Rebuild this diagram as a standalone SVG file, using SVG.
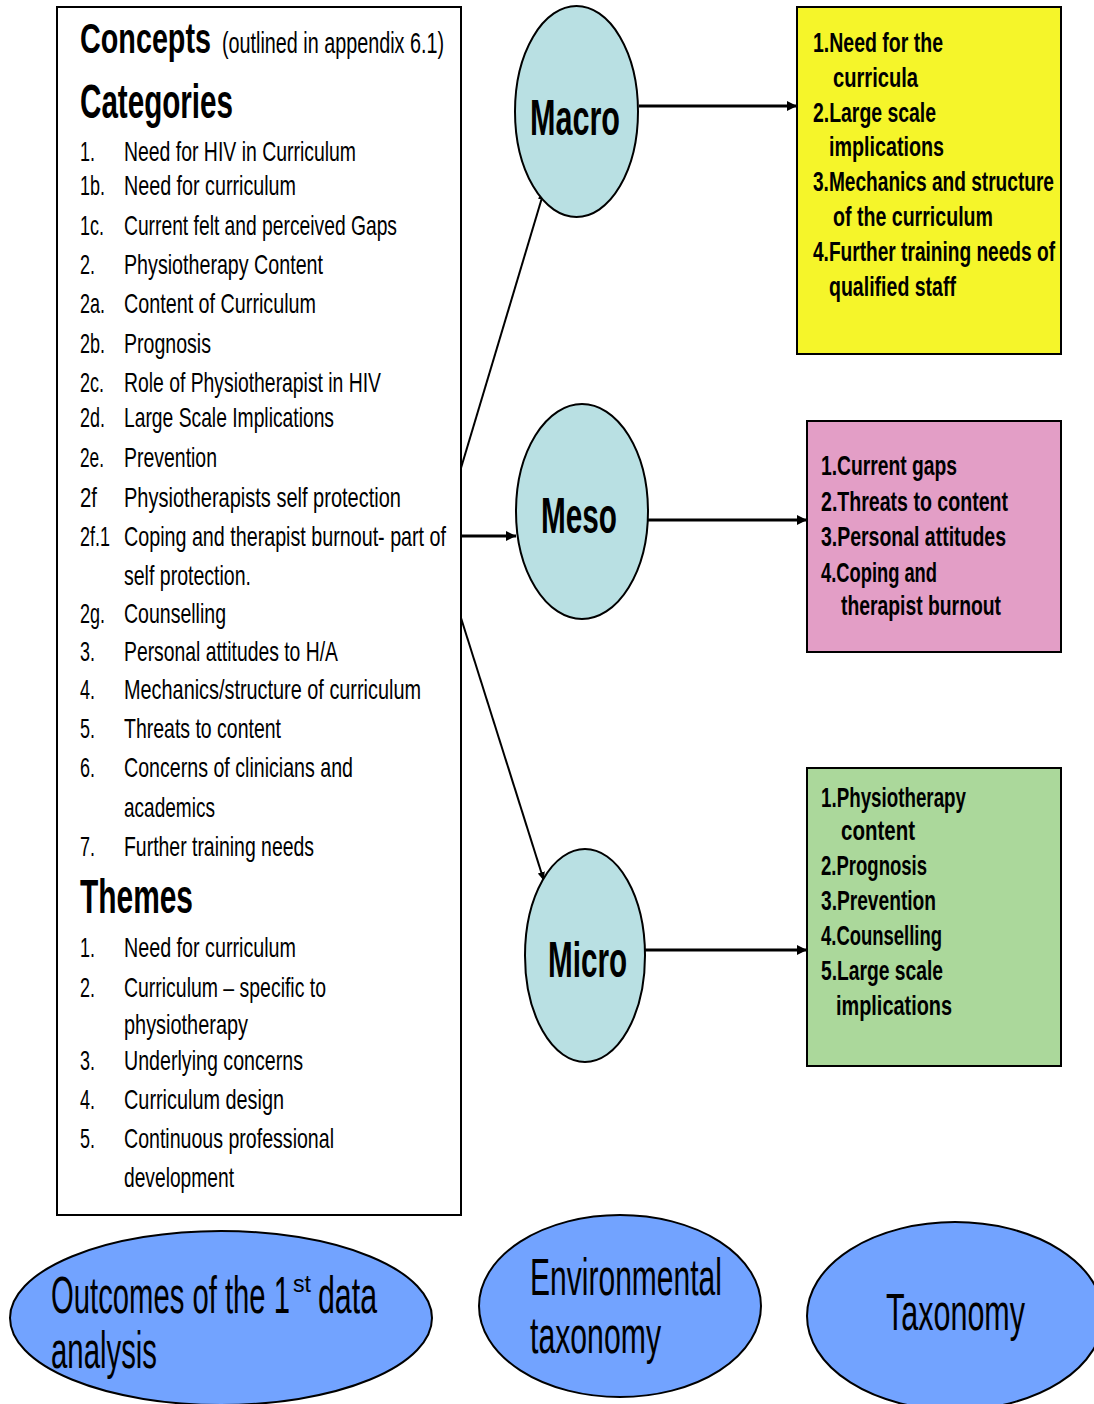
<svg xmlns="http://www.w3.org/2000/svg" width="1094" height="1404" viewBox="0 0 1094 1404">
  <style>
    .box { stroke: #000; stroke-width: 2; }
    .oval { fill: #B9E0E3; stroke: #000; stroke-width: 2; }
    .blue { fill: #72A3FF; stroke: #000; stroke-width: 2; }
    .t { font-family: "Liberation Sans", Arial, sans-serif; fill: #000; }
    .item { font-size: 28px; }
    .head { font-size: 48px; font-weight: bold; }
    .lbl { font-size: 50px; font-weight: bold; }
    .bx { font-size: 28px; font-weight: bold; }
    .big { font-size: 52px; }
    .conn { stroke: #000; fill: none; }
  </style>
  <defs>
    <marker id="arrow" viewBox="0 0 10 10" refX="10" refY="5" markerUnits="userSpaceOnUse" markerWidth="10" markerHeight="10" orient="auto">
      <path d="M0,0 L10,5 L0,10 z" fill="#000"/>
    </marker>
    <marker id="arrowThin" viewBox="0 0 10 10" refX="10" refY="5" markerUnits="userSpaceOnUse" markerWidth="9" markerHeight="9" orient="auto">
      <path d="M0,1 L10,5 L0,9 z" fill="#000"/>
    </marker>
  </defs>

  <rect width="1094" height="1404" fill="#fff"/>

  <!-- connectors -->
  <g id="connectors">
    <line class="conn" x1="639" y1="106" x2="797" y2="106" stroke-width="3" marker-end="url(#arrow)"/>
    <line class="conn" x1="648" y1="520" x2="807" y2="520" stroke-width="3" marker-end="url(#arrow)"/>
    <line class="conn" x1="645" y1="950" x2="807" y2="950" stroke-width="3" marker-end="url(#arrow)"/>
    <line class="conn" x1="461" y1="536" x2="516" y2="536" stroke-width="3" marker-end="url(#arrow)"/>
    <line class="conn" x1="461" y1="468" x2="544" y2="191" stroke-width="2" marker-end="url(#arrowThin)"/>
    <line class="conn" x1="461" y1="618" x2="544" y2="881" stroke-width="2" marker-end="url(#arrowThin)"/>
  </g>

  <!-- concepts / categories / themes list -->
  <g id="concepts">
    <rect class="box" x="57" y="7" width="404" height="1208" fill="#fff"/>
    <text class="t" x="80" y="53" font-size="42" font-weight="bold" textLength="131" lengthAdjust="spacingAndGlyphs">Concepts</text>
    <text class="t" x="222" y="53" font-size="30" textLength="222" lengthAdjust="spacingAndGlyphs">(outlined in appendix 6.1)</text>
    <text class="t head" x="80" y="118" textLength="153" lengthAdjust="spacingAndGlyphs">Categories</text>

    <g class="t item">
      <text x="80" y="161" textLength="15" lengthAdjust="spacingAndGlyphs">1.</text><text x="124" y="161" textLength="232" lengthAdjust="spacingAndGlyphs">Need for HIV in Curriculum</text>
      <text x="80" y="195" textLength="25" lengthAdjust="spacingAndGlyphs">1b.</text><text x="124" y="195" textLength="172" lengthAdjust="spacingAndGlyphs">Need for curriculum</text>
      <text x="80" y="235" textLength="24" lengthAdjust="spacingAndGlyphs">1c.</text><text x="124" y="235" textLength="273" lengthAdjust="spacingAndGlyphs">Current felt and perceived Gaps</text>
      <text x="80" y="274" textLength="15" lengthAdjust="spacingAndGlyphs">2.</text><text x="124" y="274" textLength="199" lengthAdjust="spacingAndGlyphs">Physiotherapy Content</text>
      <text x="80" y="313" textLength="25" lengthAdjust="spacingAndGlyphs">2a.</text><text x="124" y="313" textLength="192" lengthAdjust="spacingAndGlyphs">Content of Curriculum</text>
      <text x="80" y="353" textLength="25" lengthAdjust="spacingAndGlyphs">2b.</text><text x="124" y="353" textLength="87" lengthAdjust="spacingAndGlyphs">Prognosis</text>
      <text x="80" y="392" textLength="24" lengthAdjust="spacingAndGlyphs">2c.</text><text x="124" y="392" textLength="257" lengthAdjust="spacingAndGlyphs">Role of Physiotherapist in HIV</text>
      <text x="80" y="427" textLength="25" lengthAdjust="spacingAndGlyphs">2d.</text><text x="124" y="427" textLength="210" lengthAdjust="spacingAndGlyphs">Large Scale Implications</text>
      <text x="80" y="467" textLength="24" lengthAdjust="spacingAndGlyphs">2e.</text><text x="124" y="467" textLength="93" lengthAdjust="spacingAndGlyphs">Prevention</text>
      <text x="80" y="507" textLength="17" lengthAdjust="spacingAndGlyphs">2f</text><text x="124" y="507" textLength="277" lengthAdjust="spacingAndGlyphs">Physiotherapists self protection</text>
      <text x="80" y="546" textLength="30" lengthAdjust="spacingAndGlyphs">2f.1</text><text x="124" y="546" textLength="322" lengthAdjust="spacingAndGlyphs">Coping and therapist burnout- part of</text>
      <text x="124" y="585" textLength="127" lengthAdjust="spacingAndGlyphs">self protection.</text>
      <text x="80" y="623" textLength="25" lengthAdjust="spacingAndGlyphs">2g.</text><text x="124" y="623" textLength="102" lengthAdjust="spacingAndGlyphs">Counselling</text>
      <text x="80" y="661" textLength="15" lengthAdjust="spacingAndGlyphs">3.</text><text x="124" y="661" textLength="214" lengthAdjust="spacingAndGlyphs">Personal attitudes to H/A</text>
      <text x="80" y="699" textLength="15" lengthAdjust="spacingAndGlyphs">4.</text><text x="124" y="699" textLength="297" lengthAdjust="spacingAndGlyphs">Mechanics/structure of curriculum</text>
      <text x="80" y="738" textLength="15" lengthAdjust="spacingAndGlyphs">5.</text><text x="124" y="738" textLength="157" lengthAdjust="spacingAndGlyphs">Threats to content</text>
      <text x="80" y="777" textLength="15" lengthAdjust="spacingAndGlyphs">6.</text><text x="124" y="777" textLength="229" lengthAdjust="spacingAndGlyphs">Concerns of clinicians and</text>
      <text x="124" y="817" textLength="91" lengthAdjust="spacingAndGlyphs">academics</text>
      <text x="80" y="856" textLength="15" lengthAdjust="spacingAndGlyphs">7.</text><text x="124" y="856" textLength="190" lengthAdjust="spacingAndGlyphs">Further training needs</text>
    </g>

    <text class="t head" x="80" y="913" textLength="113" lengthAdjust="spacingAndGlyphs">Themes</text>

    <g class="t item">
      <text x="80" y="957" textLength="15" lengthAdjust="spacingAndGlyphs">1.</text><text x="124" y="957" textLength="172" lengthAdjust="spacingAndGlyphs">Need for curriculum</text>
      <text x="80" y="997" textLength="15" lengthAdjust="spacingAndGlyphs">2.</text><text x="124" y="997" textLength="202" lengthAdjust="spacingAndGlyphs">Curriculum – specific to</text>
      <text x="124" y="1034" textLength="124" lengthAdjust="spacingAndGlyphs">physiotherapy</text>
      <text x="80" y="1070" textLength="15" lengthAdjust="spacingAndGlyphs">3.</text><text x="124" y="1070" textLength="179" lengthAdjust="spacingAndGlyphs">Underlying concerns</text>
      <text x="80" y="1109" textLength="15" lengthAdjust="spacingAndGlyphs">4.</text><text x="124" y="1109" textLength="160" lengthAdjust="spacingAndGlyphs">Curriculum design</text>
      <text x="80" y="1148" textLength="15" lengthAdjust="spacingAndGlyphs">5.</text><text x="124" y="1148" textLength="210" lengthAdjust="spacingAndGlyphs">Continuous professional</text>
      <text x="124" y="1187" textLength="110" lengthAdjust="spacingAndGlyphs">development</text>
    </g>
  </g>

  <!-- level ovals -->
  <g id="macro">
    <ellipse class="oval" cx="576.5" cy="111.5" rx="61.5" ry="105.5"/>
    <text class="t lbl" x="530" y="135" textLength="90" lengthAdjust="spacingAndGlyphs">Macro</text>
  </g>
  <g id="meso">
    <ellipse class="oval" cx="582" cy="511.5" rx="66" ry="107.5"/>
    <text class="t lbl" x="541" y="533" textLength="76" lengthAdjust="spacingAndGlyphs">Meso</text>
  </g>
  <g id="micro">
    <ellipse class="oval" cx="585" cy="955.5" rx="60" ry="106.5"/>
    <text class="t lbl" x="548" y="977" textLength="79" lengthAdjust="spacingAndGlyphs">Micro</text>
  </g>

  <!-- macro findings -->
  <g id="macro-list">
    <rect class="box" x="797" y="7" width="264" height="347" fill="#F5F52A"/>
    <g class="t bx">
      <text x="813" y="52" textLength="130" lengthAdjust="spacingAndGlyphs">1.Need for the</text>
      <text x="833" y="87" textLength="85" lengthAdjust="spacingAndGlyphs">curricula</text>
      <text x="813" y="122" textLength="123" lengthAdjust="spacingAndGlyphs">2.Large scale</text>
      <text x="829" y="156" textLength="115" lengthAdjust="spacingAndGlyphs">implications</text>
      <text x="813" y="191" textLength="241" lengthAdjust="spacingAndGlyphs">3.Mechanics and structure</text>
      <text x="833" y="226" textLength="160" lengthAdjust="spacingAndGlyphs">of the curriculum</text>
      <text x="813" y="261" textLength="242" lengthAdjust="spacingAndGlyphs">4.Further training needs of</text>
      <text x="829" y="296" textLength="127" lengthAdjust="spacingAndGlyphs">qualified staff</text>
    </g>
  </g>

  <!-- meso findings -->
  <g id="meso-list">
    <rect class="box" x="807" y="421" width="254" height="231" fill="#E39EC6"/>
    <g class="t bx">
      <text x="821" y="475" textLength="136" lengthAdjust="spacingAndGlyphs">1.Current gaps</text>
      <text x="821" y="511" textLength="187" lengthAdjust="spacingAndGlyphs">2.Threats to content</text>
      <text x="821" y="546" textLength="185" lengthAdjust="spacingAndGlyphs">3.Personal attitudes</text>
      <text x="821" y="582" textLength="116" lengthAdjust="spacingAndGlyphs">4.Coping and</text>
      <text x="841" y="615" textLength="160" lengthAdjust="spacingAndGlyphs">therapist burnout</text>
    </g>
  </g>

  <!-- micro findings -->
  <g id="micro-list">
    <rect class="box" x="807" y="768" width="254" height="298" fill="#ABD89B"/>
    <g class="t bx">
      <text x="821" y="807" textLength="145" lengthAdjust="spacingAndGlyphs">1.Physiotherapy</text>
      <text x="841" y="840" textLength="74" lengthAdjust="spacingAndGlyphs">content</text>
      <text x="821" y="875" textLength="106" lengthAdjust="spacingAndGlyphs">2.Prognosis</text>
      <text x="821" y="910" textLength="115" lengthAdjust="spacingAndGlyphs">3.Prevention</text>
      <text x="821" y="945" textLength="121" lengthAdjust="spacingAndGlyphs">4.Counselling</text>
      <text x="821" y="980" textLength="122" lengthAdjust="spacingAndGlyphs">5.Large scale</text>
      <text x="836" y="1015" textLength="116" lengthAdjust="spacingAndGlyphs">implications</text>
    </g>
  </g>

  <!-- bottom legend ovals -->
  <g id="outcomes">
    <ellipse class="blue" cx="221" cy="1318" rx="211" ry="87"/>
    <text class="t big" x="51" y="1313" textLength="239" lengthAdjust="spacingAndGlyphs">Outcomes of the 1</text>
    <text class="t" x="293" y="1292" font-size="24" textLength="18" lengthAdjust="spacingAndGlyphs">st</text>
    <text class="t big" x="318" y="1313" textLength="59" lengthAdjust="spacingAndGlyphs">data</text>
    <text class="t big" x="51" y="1368" textLength="106" lengthAdjust="spacingAndGlyphs">analysis</text>
  </g>
  <g id="environmental">
    <ellipse class="blue" cx="620" cy="1306" rx="141" ry="91"/>
    <text class="t big" x="530" y="1295" textLength="192" lengthAdjust="spacingAndGlyphs">Environmental</text>
    <text class="t big" x="530" y="1353" textLength="131" lengthAdjust="spacingAndGlyphs">taxonomy</text>
  </g>
  <g id="taxonomy">
    <ellipse class="blue" cx="955" cy="1316" rx="148" ry="94"/>
    <text class="t big" x="886" y="1330" textLength="139" lengthAdjust="spacingAndGlyphs">Taxonomy</text>
  </g>
</svg>
